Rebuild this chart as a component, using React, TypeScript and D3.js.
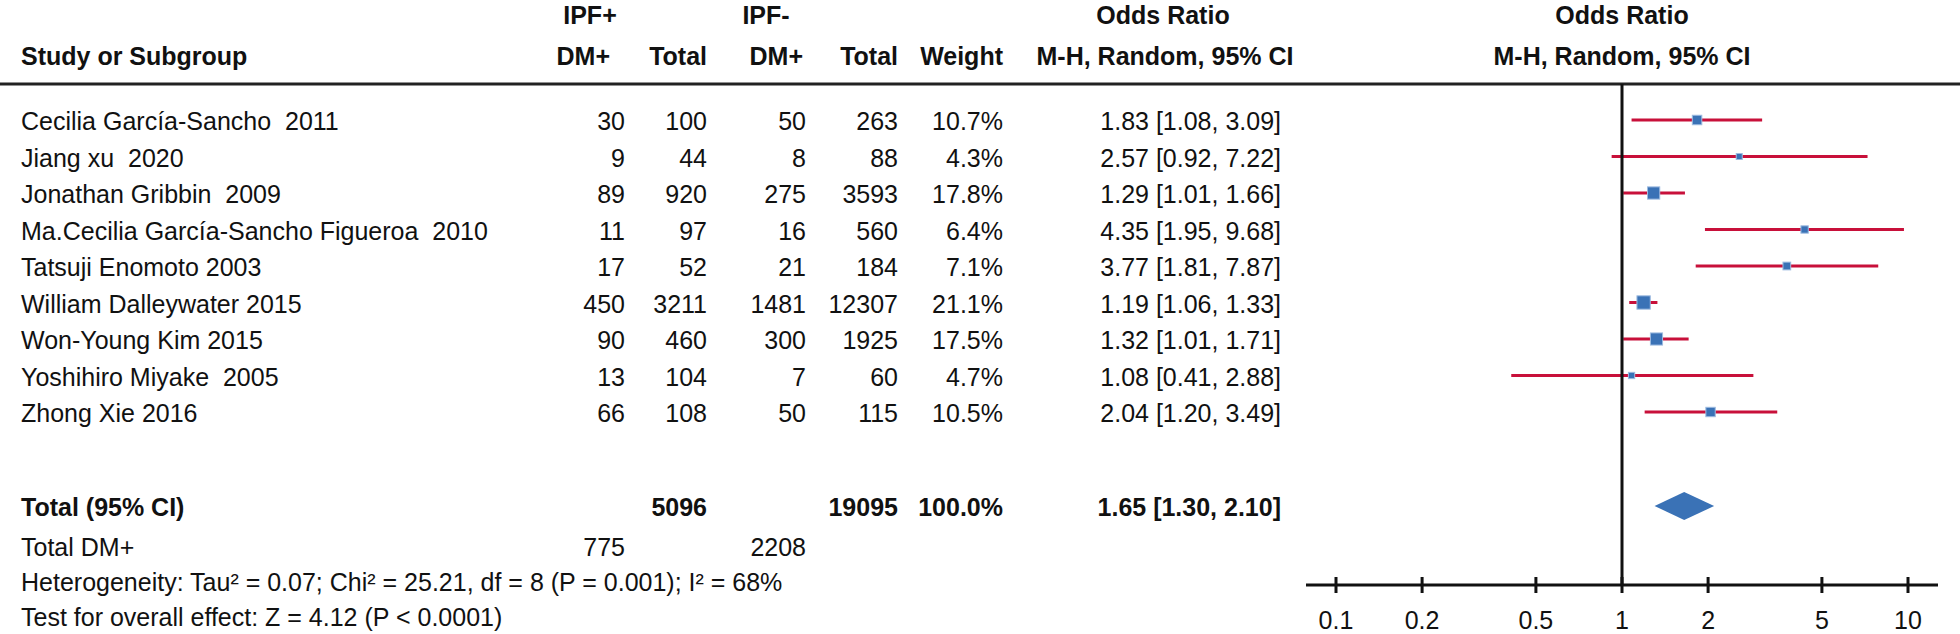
import React from "react";
import * as d3 from "d3";

// study rows
const studies = [
  "Cecilia García-Sancho  2011",
  "Jiang xu  2020",
  "Jonathan Gribbin  2009",
  "Ma.Cecilia García-Sancho Figueroa  2010",
  "Tatsuji Enomoto 2003",
  "William Dalleywater 2015",
  "Won-Young Kim 2015",
  "Yoshihiro Miyake  2005",
  "Zhong Xie 2016",
];
const ipfPosDm = [30, 9, 89, 11, 17, 450, 90, 13, 66];
const ipfPosTotal = [100, 44, 920, 97, 52, 3211, 460, 104, 108];
const ipfNegDm = [50, 8, 275, 16, 21, 1481, 300, 7, 50];
const ipfNegTotal = [263, 88, 3593, 560, 184, 12307, 1925, 60, 115];
const weights = [10.7, 4.3, 17.8, 6.4, 7.1, 21.1, 17.5, 4.7, 10.5];
const oddsRatio = [1.83, 2.57, 1.29, 4.35, 3.77, 1.19, 1.32, 1.08, 2.04];
const ciLow = [1.08, 0.92, 1.01, 1.95, 1.81, 1.06, 1.01, 0.41, 1.2];
const ciHigh = [3.09, 7.22, 1.66, 9.68, 7.87, 1.33, 1.71, 2.88, 3.49];

// pooled
const pooled = { or: 1.65, lo: 1.3, hi: 2.1 };
const totalPos = 5096;
const totalNeg = 19095;
const totalDmPos = 775;
const totalDmNeg = 2208;
const heterogeneity =
  "Heterogeneity: Tau² = 0.07; Chi² = 25.21, df = 8 (P = 0.001); I² = 68%";
const overallEffect = "Test for overall effect: Z = 4.12 (P < 0.0001)";

const axisTicks = [0.1, 0.2, 0.5, 1, 2, 5, 10];

const width = 1960;
const height = 634;
const font = "'Liberation Sans', Arial, Helvetica, sans-serif";
const fs = 25;
const ink = "#111";
const blue = "#3a72b6";
const red = "#c8103a";

const col = {
  study: 21,
  posDm: 625,
  posTotal: 707,
  negDm: 806,
  negTotal: 898,
  weight: 1003,
  ci: 1281,
};

const fmt2 = d3.format(".2f");

const T = ({ x, y, anchor = "start", bold = false, children }: any) => (
  <text
    x={x}
    y={y}
    textAnchor={anchor}
    fontWeight={bold ? "bold" : "normal"}
    style={{ whiteSpace: "pre" }}
  >
    {children}
  </text>
);

export default function App() {
  const x = d3.scaleLog().domain([0.1, 10]).range([1336, 1908]);
  const y = d3
    .scalePoint<number>()
    .domain(d3.range(studies.length))
    .range([120, 412]);
  const textDy = 10;
  const box = (w: number) => 2.9 * Math.sqrt(w);

  const axisY = 585;
  const headerLine = 84;
  const totalY = 506;

  const x1 = x(1);
  const axisMin = x(0.1) - 30;
  const axisMax = x(10) + 30;

  return (
    <svg
      width={width}
      height={height}
      style={{ position: "absolute", left: 0, top: 0, background: "#fff" }}
      fontFamily={font}
      fontSize={fs}
      fill={ink}
    >
      {/* headers */}
      <T x={590} y={24} anchor="middle" bold>IPF+</T>
      <T x={766} y={24} anchor="middle" bold>IPF-</T>
      <T x={1163} y={24} anchor="middle" bold>Odds Ratio</T>
      <T x={x1} y={24} anchor="middle" bold>Odds Ratio</T>
      <T x={col.study} y={65} bold>Study or Subgroup</T>
      <T x={610} y={65} anchor="end" bold>DM+</T>
      <T x={col.posTotal} y={65} anchor="end" bold>Total</T>
      <T x={803} y={65} anchor="end" bold>DM+</T>
      <T x={col.negTotal} y={65} anchor="end" bold>Total</T>
      <T x={col.weight} y={65} anchor="end" bold>Weight</T>
      <T x={1165} y={65} anchor="middle" bold>M-H, Random, 95% CI</T>
      <T x={x1} y={65} anchor="middle" bold>M-H, Random, 95% CI</T>

      <line x1={0} x2={width} y1={headerLine} y2={headerLine} stroke="#222" strokeWidth={3} />

      {/* study rows */}
      {studies.map((s, i) => {
        const yy = y(i)!;
        const ty = yy + textDy;
        const side = box(weights[i]);
        return (
          <g key={s}>
            <T x={col.study} y={ty}>{s}</T>
            <T x={col.posDm} y={ty} anchor="end">{ipfPosDm[i]}</T>
            <T x={col.posTotal} y={ty} anchor="end">{ipfPosTotal[i]}</T>
            <T x={col.negDm} y={ty} anchor="end">{ipfNegDm[i]}</T>
            <T x={col.negTotal} y={ty} anchor="end">{ipfNegTotal[i]}</T>
            <T x={col.weight} y={ty} anchor="end">{weights[i].toFixed(1)}%</T>
            <T x={col.ci} y={ty} anchor="end">
              {`${fmt2(oddsRatio[i])} [${fmt2(ciLow[i])}, ${fmt2(ciHigh[i])}]`}
            </T>
            <line
              x1={x(ciLow[i])}
              x2={x(ciHigh[i])}
              y1={yy}
              y2={yy}
              stroke={red}
              strokeWidth={3}
            />
            <rect
              x={x(oddsRatio[i]) - side / 2}
              y={yy - side / 2}
              width={side}
              height={side}
              fill={blue}
              stroke="#9dbbe0"
              strokeWidth={1}
            />
          </g>
        );
      })}

      {/* total */}
      <T x={col.study} y={516} bold>Total (95% CI)</T>
      <T x={col.posTotal} y={516} anchor="end" bold>{totalPos}</T>
      <T x={col.negTotal} y={516} anchor="end" bold>{totalNeg}</T>
      <T x={col.weight} y={516} anchor="end" bold>100.0%</T>
      <T x={col.ci} y={516} anchor="end" bold>
        {`${fmt2(pooled.or)} [${fmt2(pooled.lo)}, ${fmt2(pooled.hi)}]`}
      </T>
      <path
        d={`M${x(pooled.lo)},${totalY} L${x(pooled.or)},${totalY - 14} L${x(pooled.hi)},${totalY} L${x(pooled.or)},${totalY + 14} Z`}
        fill={blue}
      />

      <T x={col.study} y={556}>Total DM+</T>
      <T x={col.posDm} y={556} anchor="end">{totalDmPos}</T>
      <T x={col.negDm} y={556} anchor="end">{totalDmNeg}</T>
      <T x={col.study} y={591}>{heterogeneity}</T>
      <T x={col.study} y={626}>{overallEffect}</T>

      {/* null line */}
      <line x1={x1} x2={x1} y1={headerLine} y2={axisY} stroke="#111" strokeWidth={3} />

      {/* axis */}
      <line x1={axisMin} x2={axisMax} y1={axisY} y2={axisY} stroke="#111" strokeWidth={3} />
      {axisTicks.map((t) => (
        <g key={t}>
          <line x1={x(t)} x2={x(t)} y1={axisY - 8} y2={axisY + 8} stroke="#111" strokeWidth={3} />
          <T x={x(t)} y={629} anchor="middle">{String(t)}</T>
        </g>
      ))}
    </svg>
  );
}
